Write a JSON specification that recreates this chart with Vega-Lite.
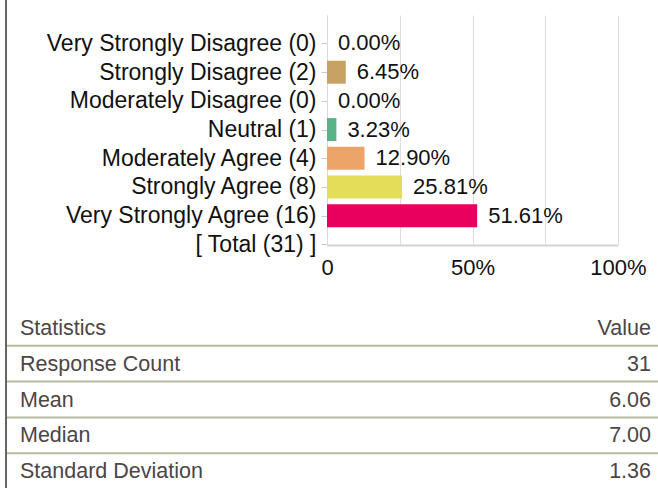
{
  "$schema": "https://vega.github.io/schema/vega-lite/v6.json",
  "width": 291,
  "height": 230,
  "autosize": {"type": "none"},
  "padding": {"left": 327, "top": 15, "right": 40, "bottom": 243},
  "background": "white",
  "config": {"view": {"stroke": null}, "font": "Liberation Sans"},
  "layer": [
    {
      "data": {"values": [
        {"label": "Very Strongly Disagree (0)", "count": 0, "pct": 0},
        {"label": "Strongly Disagree (2)", "count": 2, "pct": 0.064516},
        {"label": "Moderately Disagree (0)", "count": 0, "pct": 0},
        {"label": "Neutral (1)", "count": 1, "pct": 0.032258},
        {"label": "Moderately Agree (4)", "count": 4, "pct": 0.129032},
        {"label": "Strongly Agree (8)", "count": 8, "pct": 0.258065},
        {"label": "Very Strongly Agree (16)", "count": 16, "pct": 0.516129},
        {"label": "[ Total (31) ]", "count": 31, "pct": null}
      ]},
      "encoding": {
        "y": {
          "field": "label", "type": "nominal", "sort": null,
          "scale": {
            "type": "point",
            "domain": ["Very Strongly Disagree (0)", "Strongly Disagree (2)", "Moderately Disagree (0)", "Neutral (1)", "Moderately Agree (4)", "Strongly Agree (8)", "Very Strongly Agree (16)", "[ Total (31) ]"],
            "padding": 0.507, "align": 0.979
          },
          "axis": {
            "title": null, "grid": false, "labelFontSize": 23, "labelColor": "#111111",
            "labelLimit": 500, "labelPadding": 5, "tickSize": 6, "tickColor": "#cccccc",
            "domain": true, "domainColor": "#d9d9d9"
          }
        }
      },
      "layer": [
        {
          "mark": {"type": "bar", "height": 23},
          "encoding": {
            "x": {
              "field": "pct", "type": "quantitative",
              "scale": {"domain": [0, 1], "nice": false},
              "axis": {
                "title": null, "values": [0, 0.25, 0.5, 0.75, 1], "grid": true, "gridColor": "#dedede",
                "ticks": false, "domainColor": "#d4d4d4", "domainWidth": 2,
                "labelFontSize": 22, "labelColor": "#111111", "labelPadding": 12, "labelFlush": false,
                "labelExpr": "datum.value == 0 ? '0' : (datum.value == 0.5 || datum.value == 1) ? format(datum.value, '.0%') : ''"
              }
            },
            "color": {
              "field": "label", "type": "nominal", "legend": null,
              "scale": {
                "domain": ["Very Strongly Disagree (0)", "Strongly Disagree (2)", "Moderately Disagree (0)", "Neutral (1)", "Moderately Agree (4)", "Strongly Agree (8)", "Very Strongly Agree (16)", "[ Total (31) ]"],
                "range": ["#999999", "#c8a264", "#999999", "#5cb287", "#eca468", "#e3dd57", "#e9005f", "#999999"]
              }
            }
          }
        },
        {
          "mark": {"type": "text", "align": "left", "baseline": "middle", "dx": 11, "fontSize": 22, "color": "#111111"},
          "encoding": {
            "x": {"field": "pct", "type": "quantitative"},
            "text": {"field": "pct", "type": "quantitative", "format": ".2%"}
          }
        }
      ]
    },
    {
      "data": {"values": [
        {"stat": "Statistics", "value": "Value"},
        {"stat": "Response Count", "value": "31"},
        {"stat": "Mean", "value": "6.06"},
        {"stat": "Median", "value": "7.00"},
        {"stat": "Standard Deviation", "value": "1.36"}
      ]},
      "encoding": {
        "y": {
          "field": "stat", "type": "nominal", "sort": null,
          "scale": {"type": "band", "range": [295, 474], "paddingInner": 0, "paddingOuter": 0},
          "axis": null
        }
      },
      "layer": [
        {
          "mark": {"type": "rule", "color": "#b8baa0", "strokeWidth": 2},
          "encoding": {
            "y": {"field": "stat", "type": "nominal", "sort": null, "bandPosition": 1},
            "x": {"datum": 0, "type": "quantitative", "scale": {"domain": [0, 1], "range": [-321, 331], "nice": false, "zero": false}, "axis": null},
            "x2": {"datum": 1}
          }
        },
        {
          "mark": {"type": "text", "align": "left", "baseline": "middle", "dx": 14, "dy": 1, "fontSize": 21.5, "color": "#4d4545"},
          "encoding": {
            "x": {"datum": 0, "type": "quantitative"},
            "text": {"field": "stat"}
          }
        },
        {
          "mark": {"type": "text", "align": "right", "baseline": "middle", "dx": -7, "dy": 1, "fontSize": 21.5, "color": "#4d4545"},
          "encoding": {
            "x": {"datum": 1, "type": "quantitative"},
            "text": {"field": "value"}
          }
        }
      ]
    },
    {
      "data": {"values": [{"border": "left"}]},
      "mark": {"type": "rule", "color": "#6b6561", "strokeWidth": 2},
      "encoding": {
        "x": {"datum": 0, "type": "quantitative", "scale": {"domain": [0, 1], "range": [-321, 331], "nice": false, "zero": false}, "axis": null},
        "y": {"datum": 0, "type": "quantitative", "scale": {"domain": [0, 1], "range": [-15, 473], "nice": false, "zero": false}, "axis": null},
        "y2": {"datum": 1}
      }
    }
  ],
  "resolve": {"scale": {"x": "independent", "y": "independent", "color": "independent"}}
}
